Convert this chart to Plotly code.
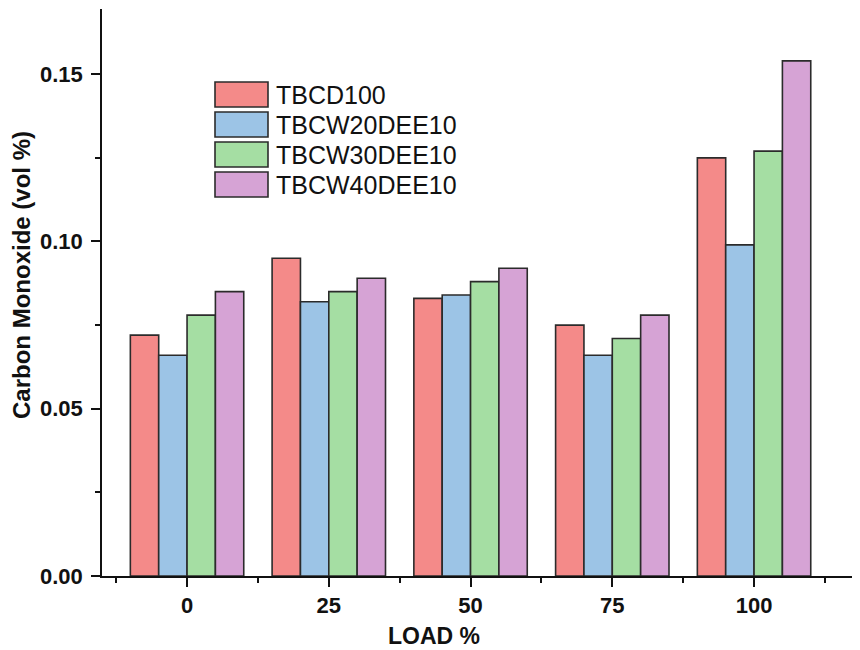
import plotly.graph_objects as go

categories = ["0", "25", "50", "75", "100"]
series_names = ["TBCD100", "TBCW20DEE10", "TBCW30DEE10", "TBCW40DEE10"]
tbcd100 = [0.072, 0.095, 0.083, 0.075, 0.125]
tbcw20dee10 = [0.066, 0.082, 0.084, 0.066, 0.099]
tbcw30dee10 = [0.078, 0.085, 0.088, 0.071, 0.127]
tbcw40dee10 = [0.085, 0.089, 0.092, 0.078, 0.154]
series_values = [tbcd100, tbcw20dee10, tbcw30dee10, tbcw40dee10]
colors = ["#F48A89", "#9CC4E6", "#A5DEA3", "#D6A3D5"]

OFF = 8  # page body margin
W, H = 852, 642
ML, MR, MT, MB = 94, 0, 1, 74
PW, PH = W - ML - MR, H - MT - MB
FONT = "Liberation Sans, Arial, sans-serif"

xpos = list(range(len(categories)))

fig = go.Figure()
for name, vals, col in zip(series_names, series_values, colors):
    fig.add_trace(go.Bar(
        x=xpos, y=vals, name=name,
        marker=dict(color=col, line=dict(color="#2b2b2b", width=1.6)),
        showlegend=False,
    ))

def px2paper(px, py):
    px -= OFF
    py -= OFF
    return (px - ML) / PW, (H - MB - py) / PH

# legend drawn as shapes + text
for i, (name, col) in enumerate(zip(series_names, colors)):
    top = 82 + 30 * i
    x0, y1 = px2paper(215, top)
    x1, y0 = px2paper(268, top + 25)
    fig.add_shape(type="rect", xref="paper", yref="paper", x0=x0, x1=x1, y0=y0, y1=y1,
                  fillcolor=col, line=dict(color="#2b2b2b", width=1.6))
    tx, ty = px2paper(274, top + 12.5)
    fig.add_annotation(xref="paper", yref="paper", x=tx, y=ty, text=name,
                       showarrow=False, xanchor="left", yanchor="middle",
                       font=dict(family=FONT, size=25, color="#111"))

# axis titles
tx, ty = px2paper(434, 636)
fig.add_annotation(xref="paper", yref="paper", x=tx, y=ty, text="<b>LOAD %</b>",
                   showarrow=False, xanchor="center", yanchor="middle",
                   font=dict(family=FONT, size=23, color="#111"))
tx, ty = px2paper(21, 275)
fig.add_annotation(xref="paper", yref="paper", x=tx, y=ty, text="<b>Carbon Monoxide (vol %)</b>",
                   showarrow=False, xanchor="center", yanchor="middle", textangle=-90,
                   font=dict(family=FONT, size=24, color="#111"))

xr0 = -0.6
xr1 = xr0 + PW / 141.75
fig.update_layout(
    width=W, height=H,
    margin=dict(l=ML, r=MR, t=MT, b=MB, pad=0),
    paper_bgcolor="white", plot_bgcolor="white",
    barmode="group", bargap=0.2, bargroupgap=0,
    font=dict(family=FONT, color="#111"),
    xaxis=dict(
        range=[xr0, xr1], tickmode="array", tickvals=xpos,
        ticktext=[f"<b>{c}</b>" for c in categories],
        showgrid=False, zeroline=False, showline=True, linecolor="#111", linewidth=1.6,
        ticks="outside", ticklen=9, tickwidth=1.6, tickcolor="#111",
        tickfont=dict(family=FONT, size=22, color="#111"), ticklabelstandoff=0,
        minor=dict(tickmode="linear", tick0=0.5, dtick=1, ticks="outside", ticklen=5,
                   tickwidth=1.6, tickcolor="#111", showgrid=False),
    ),
    yaxis=dict(
        range=[0, 0.1695], tickmode="linear", tick0=0, dtick=0.05, tickformat=".2f",
        showgrid=False, zeroline=False, showline=True, linecolor="#111", linewidth=1.6,
        ticks="outside", ticklen=9, tickwidth=1.6, tickcolor="#111",
        tickfont=dict(family=FONT, size=22, color="#111", weight="bold"), ticklabelstandoff=4,
        minor=dict(tickmode="linear", tick0=0.025, dtick=0.05, ticks="outside", ticklen=5,
                   tickwidth=1.6, tickcolor="#111", showgrid=False),
    ),
)

fig.write_html("out.html")
